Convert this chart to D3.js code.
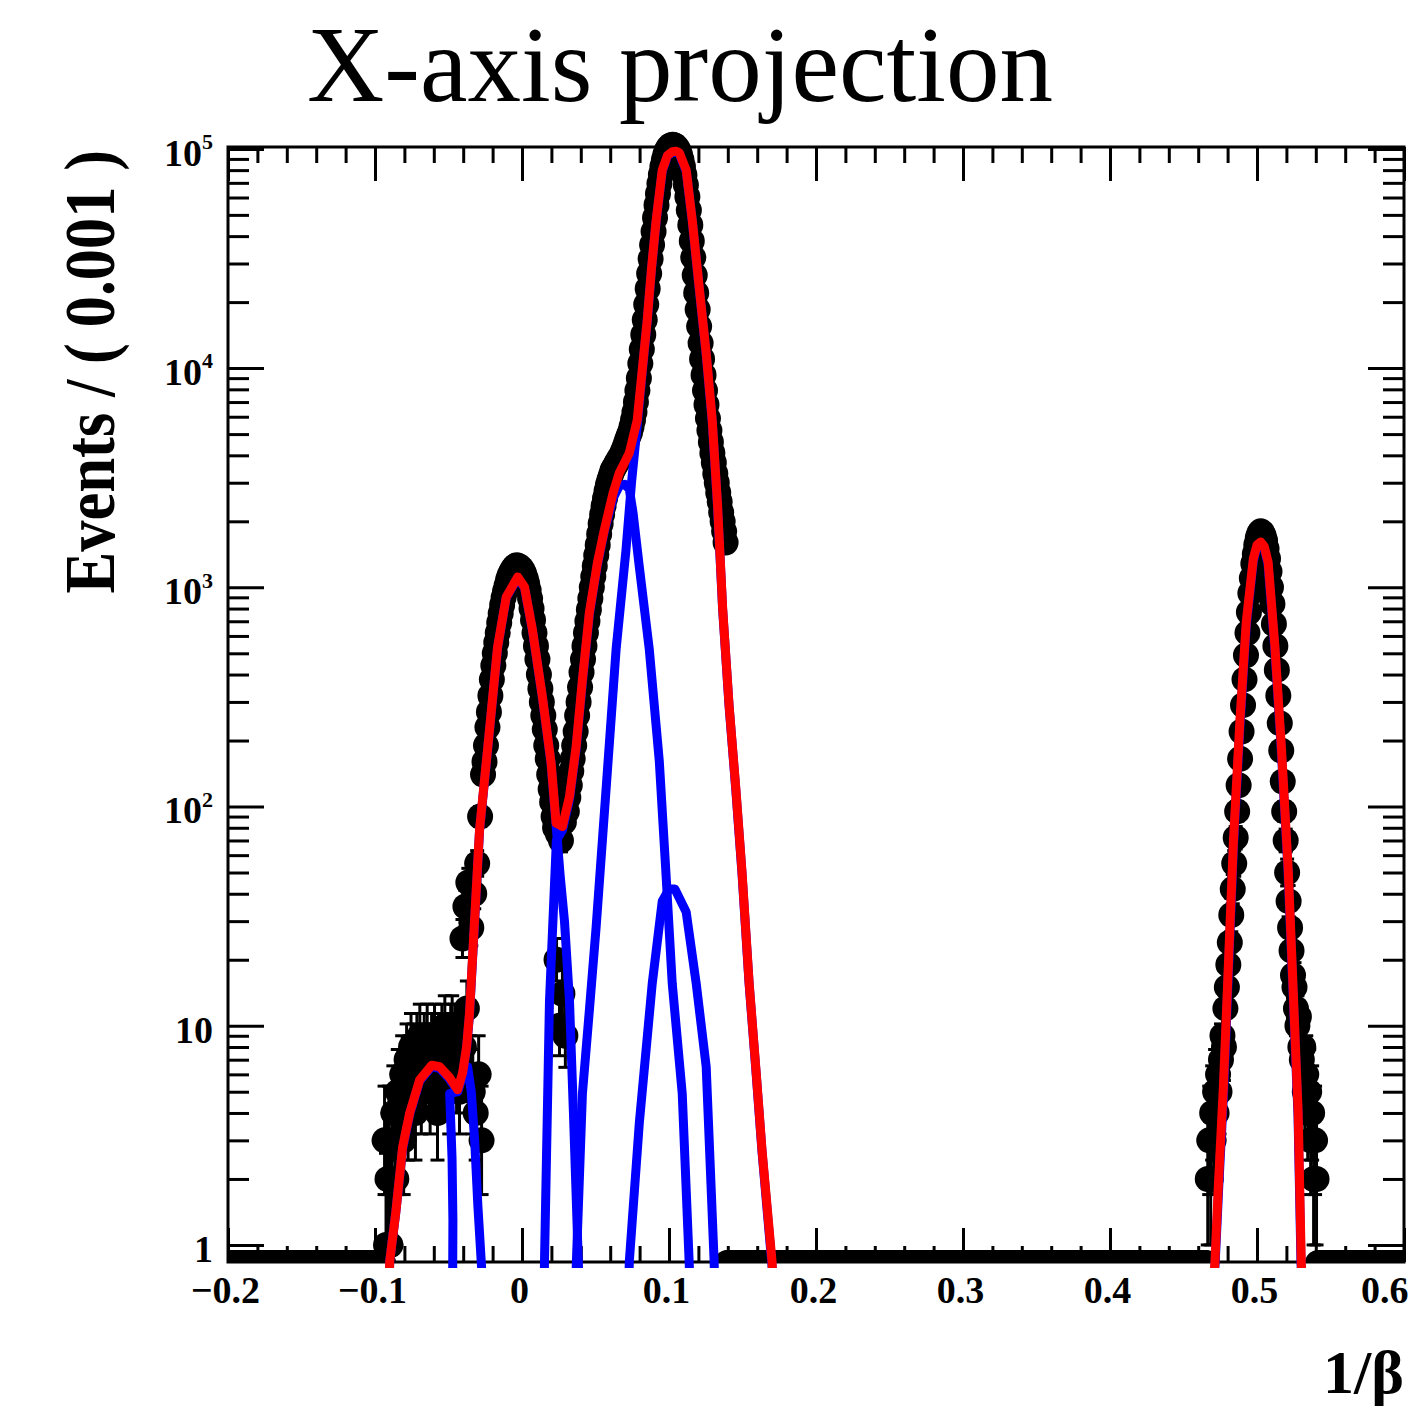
<!DOCTYPE html>
<html><head><meta charset="utf-8">
<script src="https://cdn.jsdelivr.net/npm/d3@7"></script>
<style>html,body{margin:0;padding:0;background:#fff;} svg{display:block;}</style>
</head><body>
<script>
// ---------- text ----------
const titleText = "X-axis projection";
const xTitle = "1/\u03b2";
const yTitle = "Events / ( 0.001 )";

// ---------- axes ----------
const binWidth = 0.001;
const xDomain = [-0.2, 0.6];
const yDomain = [0.836, 102000];
const xTickValues = [-0.2, -0.1, 0, 0.1, 0.2, 0.3, 0.4, 0.5, 0.6];
const xTickLabels = ["\u22120.2", "\u22120.1", "0", "0.1", "0.2", "0.3", "0.4", "0.5", "0.6"];
const yTickValues = [1, 10, 100, 1000, 10000, 100000];
const yTickBase = ["1", "10", "10", "10", "10", "10"];
const yTickExp = ["", "", "2", "3", "4", "5"];

// ---------- data: counts per 0.001 bin (first bin centre given) ----------
const leftStart = -0.0935;
const leftCounts = [3,1,2,3,1,2,4,3,2,5, 3,4,6,3,5,7,4,6,8,5, 7,4,8,6,9,5,7,8,6,9,
  7,5,8,6,9,7,4,8,6,9, 7,10,6,8,5,9,10,7,9,6, 8,5,7,25,8,35,12,45,6,28, 5,40,4,55];

const mainStart = -0.0295;
const mainCounts = [6,90,3,140,160,190,230,270,320,380,
  440,500,560,620,690,760,830,900,960,1020,
  1080,1130,1170,1200,1230,1250,1260,1250,1240,1220,
  1190,1150,1100,1040,970,890,800,710,620,540,
  470,400,345,300,260,225,190,165,140,120,
  105,90,80,20,75,10,70,14,85,9,
  95,110,125,145,165,190,220,260,300,350,
  410,470,540,620,700,790,890,1000,1120,1250,
  1400,1560,1750,1950,2150,2350,2550,2750,2950,3100,
  3250,3400,3500,3600,3700,3800,3900,4000,4150,4300,
  4500,4700,4900,5100,5400,5800,6300,7000,7900,9000,
  10500,12200,14200,16600,19500,23000,27000,31500,36500,42000,
  48500,55500,62500,69500,76500,83000,89000,94000,98000,101000,
  103000,104000,104500,104000,103000,101000,98000,94000,89000,83000,
  76000,68500,60500,52500,45000,38000,32000,26500,22000,18500,
  15500,13000,11000,9300,7900,6800,5900,5200,4600,4100,
  3700,3300,3000,2700,2450,2200,2000,1800,1600];

const rightStart = 0.4665;
const rightCounts = [2,3,2,4,3,5,4,6,5,7,
  9,8,12,15,19,24,32,42,55,72,
  95,125,165,220,290,380,490,620,770,940,
  1100,1280,1420,1560,1680,1760,1800,1780,1720,1630,
  1500,1350,1180,1000,840,680,540,420,320,240,
  180,130,95,70,50,37,28,22,17,15,
  12,10,11,8,7,8,5,6,4,5,
  3,4,2,3,2];

// ---------- fitted curves, read as [x, events] ----------
const totalFitMain = [[-0.0905,0.6],[-0.0900,0.84],[-0.0859,1.40],[-0.0812,2.8],[-0.0764,4.0],[-0.0696,5.66],
  [-0.0615,6.6],[-0.0560,6.5],[-0.0492,5.8],[-0.0438,5.1],[-0.0404,6.1],[-0.0377,8.0],[-0.0357,11.4],
  [-0.0334,22],[-0.0289,78],[-0.0221,224],[-0.0166,535],[-0.0107,904],[-0.0029,1115],[0.0017,1004],
  [0.0071,640],[0.0139,316],[0.0198,158],[0.0232,84],[0.0275,81],[0.0323,111],[0.0368,187],[0.0411,378],
  [0.0458,764],[0.0513,1291],[0.0560,1827],[0.0620,2700],[0.0662,3325],[0.0730,4100],[0.0784,5800],
  [0.0818,9800],[0.0852,16600],[0.0880,28000],[0.0913,47500],[0.0954,80000],[0.0990,93500],[0.1022,97000],
  [0.1050,97500],[0.1070,96000],[0.1117,80000],[0.1158,47500],[0.1205,23500],[0.1253,11700],[0.1294,5800],
  [0.1330,2400],[0.1365,800],[0.1409,288],[0.1455,120],[0.1497,50],[0.1545,15.7],[0.1590,6.5],[0.1633,2.7],
  [0.1701,0.84],[0.1710,0.6]];
const totalFitRight = [[0.4700,0.6],[0.4714,0.84],[0.4737,1.86],[0.4771,5.2],[0.4805,18.7],[0.4839,68],
  [0.4884,248],[0.4927,695],[0.4975,1350],[0.5000,1560],[0.5025,1610],[0.5050,1530],[0.5076,1300],
  [0.5122,535],[0.5165,191],[0.5212,52],[0.5246,14.6],[0.5280,4.0],[0.5301,0.84],[0.5310,0.6]];

const compLowBump = [[-0.0905,0.6],[-0.0900,0.84],[-0.0859,1.40],[-0.0812,2.75],[-0.0764,3.95],[-0.0696,5.6],
  [-0.0615,6.5],[-0.0560,6.4],[-0.0492,5.7],[-0.0438,5.0],[-0.0404,5.9],[-0.0370,6.5],[-0.0345,5.0],
  [-0.0322,3.0],[-0.0300,1.5],[-0.0275,0.79],[-0.0270,0.6]];
const compPeakZero = [[-0.0472,0.6],[-0.0470,1.3],[-0.0476,2.5],[-0.0492,4.9],[-0.0438,5.0],[-0.0404,6.0],
  [-0.0377,7.9],[-0.0357,11.2],[-0.0334,21.5],[-0.0289,77],[-0.0221,222],[-0.0166,530],[-0.0107,900],
  [-0.0029,1100],[0.0017,995],[0.0071,635],[0.0139,313],[0.0198,156],[0.0232,82],[0.0260,48],[0.0289,30],
  [0.0323,13],[0.0350,4],[0.0384,0.8],[0.0390,0.6]];
const compShoulder = [[0.0150,0.6],[0.0153,0.84],[0.0187,13],[0.0234,70],[0.0275,78],[0.0323,108],[0.0368,183],
  [0.0411,370],[0.0458,750],[0.0513,1270],[0.0560,1800],[0.0620,2550],[0.0662,2900],[0.0700,2950],
  [0.0730,2800],[0.0755,2200],[0.0798,1240],[0.0866,520],[0.0934,161],[0.0979,50],[0.1022,15.6],
  [0.1090,4.9],[0.1137,0.84],[0.1145,0.6]];
const compMain = [[0.0365,0.6],[0.0370,0.84],[0.0411,4.9],[0.0458,11.7],[0.0504,28],[0.0572,120],[0.0640,520],
  [0.0707,1470],[0.0745,3000],[0.0784,5500],[0.0818,9600],[0.0852,16400],[0.0880,27800],[0.0913,47000],
  [0.0954,79000],[0.0990,93000],[0.1022,96000],[0.1050,96500],[0.1070,95000],[0.1117,79000],[0.1158,47000],
  [0.1205,23200],[0.1253,11500],[0.1294,5700],[0.1330,2350],[0.1365,790],[0.1409,285],[0.1455,118],
  [0.1497,49],[0.1545,15.5],[0.1590,6.4],[0.1633,2.65],[0.1701,0.8],[0.1710,0.6]];
const compSmall = [[0.0725,0.6],[0.0730,0.84],[0.0798,3.6],[0.0886,15.6],[0.0954,37],[0.1000,42],[0.1040,42],
  [0.1117,33],[0.1185,15.6],[0.1253,6.5],[0.1307,0.84],[0.1312,0.6]];
const compRight = [[0.4702,0.6],[0.4716,0.84],[0.4739,1.8],[0.4773,5.0],[0.4806,18],[0.4840,66],[0.4885,240],
  [0.4928,680],[0.4975,1320],[0.5000,1530],[0.5025,1580],[0.5050,1500],[0.5075,1280],[0.5121,525],
  [0.5164,187],[0.5211,51],[0.5245,14.3],[0.5279,3.9],[0.5299,0.84],[0.5308,0.6]];

// ---------- layout ----------
const W = 1410, H = 1408;
const L = 228, R = 1404, T = 147, B = 1262;
const serif = "'Liberation Serif','Times New Roman',Times,serif";

const svg = d3.select("body").append("svg").attr("width", W).attr("height", H);
svg.append("rect").attr("width", W).attr("height", H).attr("fill", "#fff");

const x = d3.scaleLinear().domain(xDomain).range([L, R]);
const y = d3.scaleLog().domain(yDomain).range([B, T]);

const defs = svg.append("defs");
defs.append("clipPath").attr("id", "frameClip").append("rect")
  .attr("x", L).attr("y", 0).attr("width", R - L).attr("height", B);
defs.append("clipPath").attr("id", "curveClip").append("rect")
  .attr("x", L).attr("y", T - 10).attr("width", R - L).attr("height", B - T + 16);

// ---------- axes (ticks inside) ----------
const majorLen = 34, minorLen = 16, yMajorLen = 36, yMinorLen = 21;
const xMinor = d3.range(-0.2, 0.6001, 0.02).filter(v => Math.abs(Math.round(v * 10) - v * 10) > 1e-6);
const yMinor = [];
[0.1, 1, 10, 100, 1000, 10000].forEach(d => { for (let k = 2; k <= 9; k++) { const v = d * k; if (v >= yDomain[0] && v <= yDomain[1]) yMinor.push(v); } });

function styleAxis(g) {
  g.select(".domain").remove();
  g.selectAll(".tick line").attr("stroke", "#000").attr("stroke-width", 3);
}
const gxB = svg.append("g").attr("transform", `translate(0,${B})`)
  .call(d3.axisBottom(x).tickValues(xTickValues).tickSize(-majorLen).tickFormat((d, i) => xTickLabels[i])).call(styleAxis);
gxB.selectAll(".tick text").attr("y", 41).attr("dy", 0).attr("x", -3)
  .attr("font-family", serif).attr("font-weight", "bold").attr("font-size", 38).attr("fill", "#000");
// keep the last label inside the page
gxB.selectAll(".tick text").filter((d, i) => i === xTickValues.length - 1)
  .attr("text-anchor", "end").attr("x", W - 2 - R);
svg.append("g").attr("transform", `translate(0,${B})`)
  .call(d3.axisBottom(x).tickValues(xMinor).tickSize(-minorLen).tickFormat("")).call(styleAxis);
svg.append("g").attr("transform", `translate(0,${T})`)
  .call(d3.axisTop(x).tickValues(xTickValues).tickSize(-majorLen).tickFormat("")).call(styleAxis);
svg.append("g").attr("transform", `translate(0,${T})`)
  .call(d3.axisTop(x).tickValues(xMinor).tickSize(-minorLen).tickFormat("")).call(styleAxis);

const gyL = svg.append("g").attr("transform", `translate(${L},0)`)
  .call(d3.axisLeft(y).tickValues(yTickValues).tickSize(-yMajorLen).tickFormat("")).call(styleAxis);
gyL.selectAll(".tick").each(function (d, i) {
  const t = d3.select(this).append("text")
    .attr("x", -15).attr("y", 0).attr("dy", "0.43em")
    .attr("text-anchor", "end").attr("font-family", serif).attr("font-weight", "bold")
    .attr("font-size", 38).attr("fill", "#000");
  t.append("tspan").text(yTickBase[i]);
  if (yTickExp[i]) t.append("tspan").attr("font-size", 22).attr("dy", "-0.75em").text(yTickExp[i]);
});
svg.append("g").attr("transform", `translate(${L},0)`)
  .call(d3.axisLeft(y).tickValues(yMinor).tickSize(-yMinorLen).tickFormat("")).call(styleAxis);
svg.append("g").attr("transform", `translate(${R},0)`)
  .call(d3.axisRight(y).tickValues(yTickValues).tickSize(-yMajorLen).tickFormat("")).call(styleAxis);
svg.append("g").attr("transform", `translate(${R},0)`)
  .call(d3.axisRight(y).tickValues(yMinor).tickSize(-yMinorLen).tickFormat("")).call(styleAxis);

svg.append("rect").attr("x", L).attr("y", T).attr("width", R - L).attr("height", B - T)
  .attr("fill", "none").attr("stroke", "#000").attr("stroke-width", 3);

// ---------- data points ----------
function toPoints(start, counts) { return counts.map((c, i) => ({ v: start + i * binWidth, n: c })); }
const points = [].concat(toPoints(leftStart, leftCounts), toPoints(mainStart, mainCounts), toPoints(rightStart, rightCounts));
const occupied = new Set(points.map(p => Math.round((p.v - xDomain[0]) / binWidth - 0.5)));
const nBins = Math.round((xDomain[1] - xDomain[0]) / binWidth);
const zeroBins = d3.range(nBins).filter(i => !occupied.has(i)).map(i => xDomain[0] + (i + 0.5) * binWidth);

const R_MARK = 13, CAP = 7;
const gData = svg.append("g");
gData.append("g").attr("clip-path", "url(#frameClip)").selectAll("circle").data(zeroBins).join("circle")
  .attr("cx", d => x(d)).attr("cy", B + 1).attr("r", R_MARK).attr("fill", "#000");

const gErr = gData.append("g").attr("clip-path", "url(#frameClip)").attr("stroke", "#000").attr("stroke-width", 3);
points.forEach(p => {
  const lo = p.n + 0.5 - Math.sqrt(p.n + 0.25), hi = p.n + 0.5 + Math.sqrt(p.n + 0.25);
  const px = x(p.v), y0 = lo > 0 ? y(lo) : B + 20, y1 = y(hi);
  gErr.append("line").attr("x1", px).attr("x2", px).attr("y1", y0).attr("y2", y1);
  gErr.append("line").attr("x1", px - CAP).attr("x2", px + CAP).attr("y1", y1).attr("y2", y1);
  gErr.append("line").attr("x1", px - CAP).attr("x2", px + CAP).attr("y1", y0).attr("y2", y0);
});
gData.append("g").selectAll("circle").data(points).join("circle")
  .attr("cx", d => x(d.v)).attr("cy", d => y(d.n)).attr("r", R_MARK).attr("fill", "#000");

// ---------- curves ----------
const line = d3.line().x(d => x(d[0])).y(d => y(d[1]));
const gCurves = svg.append("g").attr("clip-path", "url(#curveClip)").attr("fill", "none")
  .attr("stroke-linejoin", "round").attr("stroke-width", 9);
[compLowBump, compPeakZero, compShoulder, compMain, compSmall, compRight].forEach(c =>
  gCurves.append("path").attr("d", line(c)).attr("stroke", "#0000ff"));
[totalFitMain, totalFitRight].forEach(c =>
  gCurves.append("path").attr("d", line(c)).attr("stroke", "#ff0000"));

// ---------- titles ----------
svg.append("text").attr("x", 680).attr("y", 101).attr("text-anchor", "middle")
  .attr("font-family", serif).attr("font-size", 107).attr("fill", "#000").text(titleText);
svg.append("text").attr("x", R).attr("y", 1393).attr("text-anchor", "end")
  .attr("font-family", serif).attr("font-weight", "bold").attr("font-size", 62).attr("fill", "#000").text(xTitle);
svg.append("text").attr("transform", `translate(114,${T + 3}) rotate(-90) scale(0.87,1)`).attr("text-anchor", "end")
  .attr("font-family", serif).attr("font-weight", "bold").attr("font-size", 72).attr("fill", "#000").text(yTitle);
</script>
</body></html>
